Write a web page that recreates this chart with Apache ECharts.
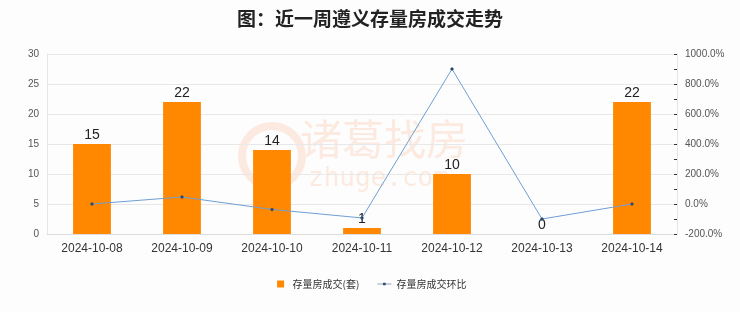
<!DOCTYPE html>
<html><head><meta charset="utf-8">
<script src="https://cdn.jsdelivr.net/npm/echarts@6/dist/echarts.min.js"></script>
<style>html,body{margin:0;padding:0;background:#fdfdfd}#c{width:740px;height:312px}</style>
</head><body><div id="c"></div>
<script>
var categories = ['2024-10-08','2024-10-09','2024-10-10','2024-10-11','2024-10-12','2024-10-13','2024-10-14'];
var volumes = [15, 22, 14, 1, 10, 0, 22];
var ratios = [0, 46.7, -36.4, -92.9, 900, -100, 0];
var leftTicks = {min: 0, max: 30, interval: 5};
var rightTicks = {min: -200, max: 1000, interval: 200};

var chart = echarts.init(document.getElementById('c'));
chart.setOption({
  backgroundColor: '#fdfdfd',
  title: {text: '图：近一周遵义存量房成交走势', left: 'center', top: 4,
    textStyle: {fontSize: 19, fontWeight: 'bold', color: '#222', fontFamily: 'Noto Sans CJK SC'}},
  graphic: [{type: 'text', left: 300, top: 118, z: 0,
    style: {text: '诸葛找房', fontSize: 42, fill: 'rgba(250,160,110,0.2)', fontFamily: 'Noto Sans CJK SC'}},
    {type: 'text', left: 308, top: 166, z: 0,
    style: {text: 'zhuge.com', fontSize: 26, fill: 'rgba(250,160,110,0.2)', fontFamily: 'DejaVu Sans Mono'}},
    {type: 'circle', left: 238, top: 122, z: 0, shape: {r: 30},
    style: {fill: 'none', stroke: 'rgba(250,160,110,0.2)', lineWidth: 8}}],
  legend: {bottom: 18, itemWidth: 14, itemHeight: 8, itemGap: 18,
    textStyle: {fontSize: 10, color: '#333', fontFamily: 'Noto Sans CJK SC'},
    data: [{name: '存量房成交(套)', icon: 'path://M0,0 L0,0.01 Z M4,0 L12,0 L12,8 L4,8 Z M16,8 L16,7.99 Z'},
           {name: '存量房成交环比', icon: 'path://M0,3.6 L16,3.6 L16,4.4 L0,4.4 Z M6.5,2.5 L9.5,2.5 L9.5,5.5 L6.5,5.5 Z M0,0 L0,0.01 Z M16,8 L16,7.99 Z'}]},
  grid: {left: 47, right: 63, top: 54, bottom: 78},
  xAxis: {type: 'category', data: categories,
    axisLine: {lineStyle: {color: '#ddd'}}, axisTick: {show: false},
    axisLabel: {color: '#333', fontSize: 12, margin: 9}},
  yAxis: [{type: 'value', min: leftTicks.min, max: leftTicks.max, interval: leftTicks.interval,
    axisLine: {show: true, lineStyle: {color: '#e6e6e6'}},
    axisLabel: {color: '#555', fontSize: 10},
    splitLine: {lineStyle: {color: '#e8e8e8'}}},
   {type: 'value', min: rightTicks.min, max: rightTicks.max, interval: rightTicks.interval,
    axisLine: {show: true, lineStyle: {color: '#e6e6e6'}},
    axisTick: {show: true, inside: true, length: 3, lineStyle: {color: '#333'}},
    minorTick: {show: true, splitNumber: 2, length: 3, lineStyle: {color: '#333'}},
    axisLabel: {color: '#555', fontSize: 10, formatter: function(v){return v.toFixed(1)+'%';}},
    splitLine: {show: false}}],
  series: [{name: '存量房成交(套)', type: 'bar', data: volumes, barWidth: '42%',
    itemStyle: {color: '#FF8800'},
    label: {show: true, position: 'top', fontSize: 14, color: '#222', distance: 2}},
   {name: '存量房成交环比', type: 'line', yAxisIndex: 1, data: ratios,
    symbol: 'diamond', symbolSize: 4, z: 5,
    lineStyle: {color: '#6f9fd4', width: 1},
    itemStyle: {color: '#2b4a70'}}]
});
</script></body></html>
